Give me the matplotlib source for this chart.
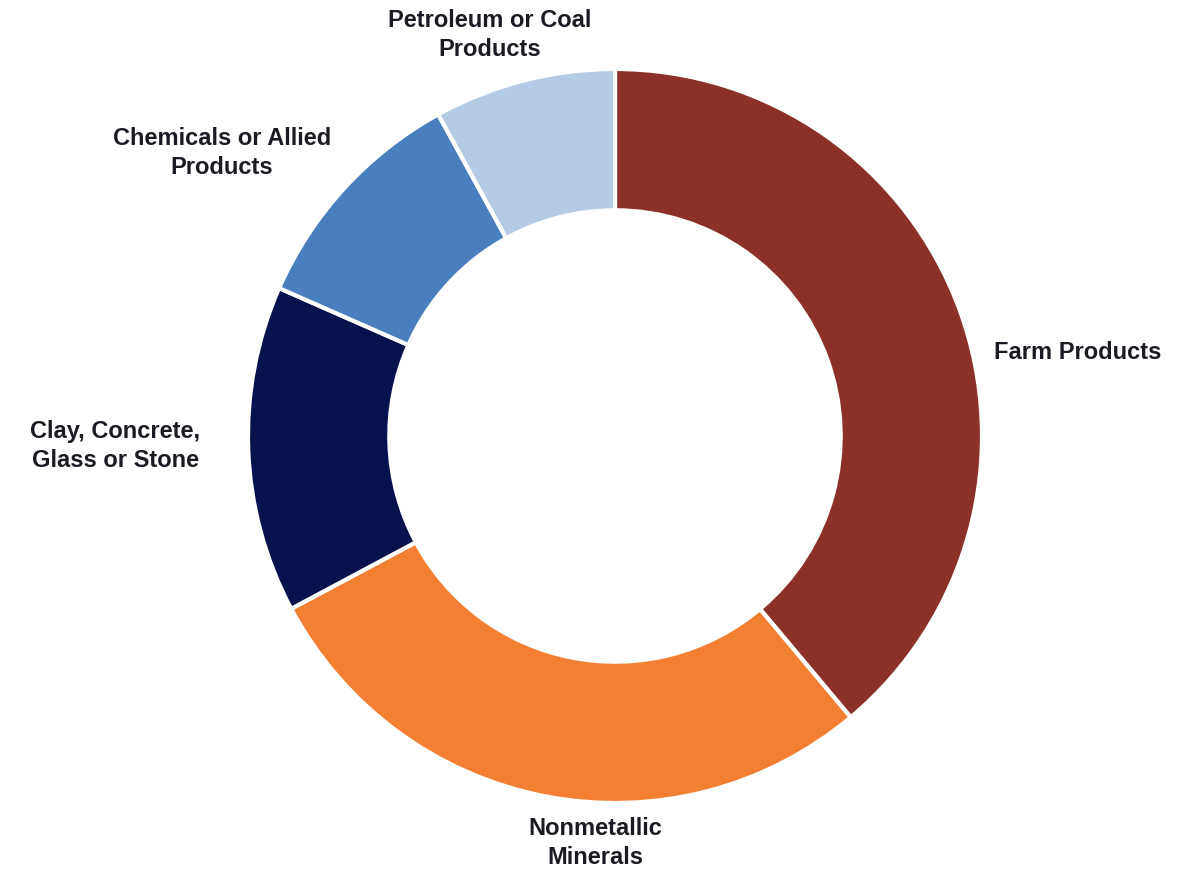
import matplotlib
matplotlib.use("Agg")
from matplotlib import pyplot as plt

categories = ["Farm Products", "Nonmetallic\nMinerals", "Clay, Concrete,\nGlass or Stone",
              "Chemicals or Allied\nProducts", "Petroleum or Coal\nProducts"]
shares = [38.9, 28.3, 14.4, 10.4, 8.0]
colors = ["#8B3129", "#F37F33", "#06114D", "#4A7FBF", "#B4CBE3"]

# label centres in data units (radius 1 = outer ring)
label_pos = [(1.262, 0.229), (-0.054, -1.106), (-1.362, -0.025),
             (-1.071, 0.774), (-0.341, 1.095)]

plt.rcParams["font.family"] = ["Liberation Sans", "DejaVu Sans"]

fig = plt.figure(figsize=(11.83, 8.70), dpi=100)
ax = fig.add_axes([0, 0, 1, 1])

wedges, _ = ax.pie(
    shares, colors=colors, startangle=90, counterclock=False,
    wedgeprops=dict(width=0.385, edgecolor="white", linewidth=3),
)

for name, (x, y) in zip(categories, label_pos):
    ax.text(x, y, name, ha="center", va="center", fontsize=17,
            fontweight="bold", color="#1b1b24", linespacing=1.3)

ax.set_xlim(-615 / 367, (1183 - 615) / 367)
ax.set_ylim(-(870 - 437) / 367, 437 / 367)
ax.set_aspect("equal")
ax.axis("off")

fig.savefig("out.png", dpi=100)
